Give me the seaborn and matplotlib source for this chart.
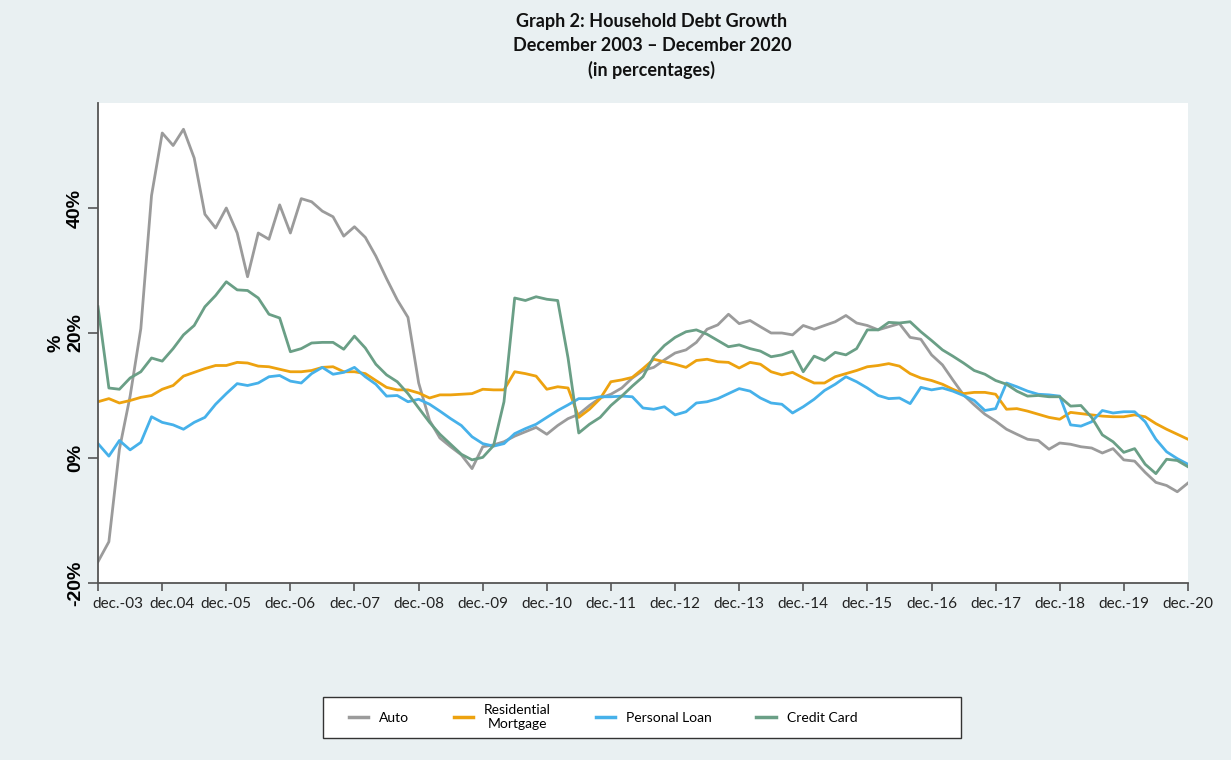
import matplotlib
matplotlib.use('Agg')
import matplotlib.pyplot as plt
from matplotlib.lines import Line2D
from matplotlib.patches import Rectangle
import pandas as pd
import seaborn as sns

# bi-monthly readings, Dec 2003 - Dec 2020
dates = pd.date_range('2003-12-01', '2020-12-01', freq='2MS')

auto = [-16.6, -13.4, 1.4, 9.9, 20.7, 42.0,
        52.0, 50.0, 52.6, 48.0, 39.0, 36.8,
        40.0, 36.0, 29.0, 36.0, 35.0, 40.5,
        36.0, 41.5, 41.0, 39.5, 38.6, 35.5,
        37.0, 35.3, 32.3, 28.7, 25.3, 22.5,
        12.0, 6.0, 3.2, 1.8, 0.5, -1.7,
        1.8, 2.1, 2.6, 3.5, 4.2, 4.9,
        3.8, 5.2, 6.3, 7.0, 8.4, 9.6,
        10.2, 11.2, 12.8, 14.0, 14.5, 15.7,
        16.8, 17.3, 18.5, 20.6, 21.3, 23.0,
        21.5, 22.0, 21.0, 20.0, 20.0, 19.7,
        21.2, 20.6, 21.2, 21.8, 22.8, 21.6,
        21.2, 20.5, 21.0, 21.5, 19.3, 19.0,
        16.5, 14.9, 12.5, 10.1, 8.5, 7.0,
        5.9, 4.6, 3.8, 3.0, 2.8, 1.4,
        2.4, 2.2, 1.8, 1.6, 0.8, 1.5,
        -0.3, -0.5, -2.3, -3.9, -4.4, -5.4,
        -4.0]

mortgage = [9.0, 9.5, 8.8, 9.2, 9.7, 10.0,
            11.0, 11.6, 13.1, 13.7, 14.3, 14.8,
            14.8, 15.3, 15.2, 14.7, 14.6, 14.2,
            13.8, 13.8, 14.0, 14.5, 14.6, 13.8,
            13.8, 13.5, 12.4, 11.3, 10.9, 10.9,
            10.4, 9.6, 10.1, 10.1, 10.2, 10.3,
            11.0, 10.9, 10.9, 13.8, 13.5, 13.1,
            11.0, 11.4, 11.2, 6.5, 7.8, 9.5,
            12.2, 12.5, 12.9, 14.3, 15.8, 15.4,
            15.0, 14.5, 15.6, 15.8, 15.4, 15.3,
            14.4, 15.3, 15.0, 13.8, 13.3, 13.7,
            12.8, 12.0, 12.0, 13.0, 13.5, 14.0,
            14.6, 14.8, 15.1, 14.7, 13.5, 12.8,
            12.4, 11.8, 11.0, 10.3, 10.5, 10.5,
            10.2, 7.8, 7.9, 7.5, 7.0, 6.5,
            6.2, 7.3, 7.1, 6.9, 6.7, 6.6,
            6.6, 6.9, 6.6, 5.5, 4.6, 3.8,
            3.0]

personal = [2.3, 0.3, 2.8, 1.3, 2.5, 6.6,
            5.7, 5.3, 4.6, 5.7, 6.5, 8.6,
            10.3, 11.9, 11.6, 12.0, 13.0, 13.2,
            12.3, 12.0, 13.5, 14.5, 13.4, 13.7,
            14.5, 13.0, 11.8, 9.9, 10.0, 9.0,
            9.4, 8.6, 7.5, 6.3, 5.2, 3.4,
            2.3, 1.9, 2.3, 3.9, 4.7, 5.4,
            6.5, 7.6, 8.5, 9.5, 9.5, 9.8,
            9.8, 9.9, 9.8, 8.0, 7.8, 8.2,
            6.9, 7.4, 8.8, 9.0, 9.5, 10.3,
            11.1, 10.7, 9.6, 8.8, 8.6, 7.2,
            8.2, 9.4, 10.8, 11.8, 13.0, 12.2,
            11.2, 10.0, 9.5, 9.6, 8.7, 11.3,
            10.9, 11.2, 10.7, 10.0, 9.2, 7.6,
            7.9, 12.0, 11.4, 10.7, 10.2, 10.1,
            9.9, 5.3, 5.1, 5.8, 7.6, 7.2,
            7.4, 7.4, 5.8, 3.0, 1.0, -0.1,
            -1.0]

credit = [24.2, 11.2, 11.0, 12.8, 13.8, 16.0,
          15.5, 17.5, 19.7, 21.2, 24.2, 26.0,
          28.2, 26.9, 26.8, 25.6, 23.0, 22.4,
          17.0, 17.5, 18.4, 18.5, 18.5, 17.4,
          19.5, 17.6, 15.0, 13.3, 12.2, 10.3,
          8.0, 5.7, 3.8, 2.2, 0.6, -0.3,
          0.1, 2.0, 9.0, 25.6, 25.2, 25.8,
          25.4, 25.2, 16.0, 4.0, 5.4, 6.5,
          8.4, 9.9, 11.5, 13.0, 16.2, 18.0,
          19.3, 20.2, 20.5, 19.8, 18.8, 17.8,
          18.1, 17.5, 17.1, 16.2, 16.5, 17.1,
          13.8, 16.3, 15.6, 16.9, 16.5, 17.5,
          20.5, 20.5, 21.7, 21.6, 21.8, 20.2,
          18.8, 17.3, 16.3, 15.2, 14.0, 13.4,
          12.4, 11.8, 10.7, 9.9, 10.0, 9.8,
          9.8, 8.3, 8.4, 6.5, 3.7, 2.6,
          0.9, 1.5, -1.0, -2.5, -0.2, -0.4,
          -1.4]

series_names = ['Auto', 'Residential\nMortgage', 'Personal Loan', 'Credit Card']
colors = ['#9b9b9b', '#eda20f', '#46b1ea', '#6a9f86']

tick_dates = pd.date_range('2003-12-01', '2020-12-01', freq='12MS')
tick_labels = ['dec.-03', 'dec.04', 'dec.-05', 'dec.-06', 'dec.-07', 'dec.-08',
               'dec.-09', 'dec.-10', 'dec.-11', 'dec.-12', 'dec.-13', 'dec.-14',
               'dec.-15', 'dec.-16', 'dec.-17', 'dec.-18', 'dec.-19', 'dec.-20']
y_ticks = [-20, 0, 20, 40]
y_labels = ['-20%', '0%', '20%', '40%']

df = pd.DataFrame({'date': dates, series_names[0]: auto, series_names[1]: mortgage,
                   series_names[2]: personal, series_names[3]: credit})
long_df = df.melt(id_vars='date', var_name='series', value_name='value')

bg = '#e9f0f2'
fig = plt.figure(figsize=(12.31, 7.60), dpi=100, facecolor=bg)
ax = fig.add_axes([98 / 1231, 1 - 583 / 760, 1090 / 1231, 480 / 760])
ax.set_facecolor('white')

sns.lineplot(data=long_df, x='date', y='value', hue='series',
             palette=dict(zip(series_names, colors)), linewidth=2.0,
             ax=ax, legend=False)

ax.set_xlim(dates[0], dates[-1])
ax.set_ylim(-20, 56.8)

# tick marks on each December; labels carried by minor ticks so the
# first two can sit a little right of their marks, as in the source
ax.xaxis.remove_overlapping_locs = False
ax.set_xticks(tick_dates)
ax.set_xticklabels([''] * len(tick_dates))
label_dates = list(tick_dates)
label_dates[0] = label_dates[0] + pd.Timedelta(days=112)
label_dates[1] = label_dates[1] + pd.Timedelta(days=55)
ax.set_xticks(label_dates, minor=True)
ax.set_xticklabels(tick_labels, minor=True, family='Lato', fontsize=11, color='#222222')
ax.tick_params(axis='x', which='minor', length=0, pad=10)
ax.tick_params(axis='x', which='major', length=6, width=1.2, color='#555555', pad=4)

ax.set_yticks(y_ticks)
ax.set_yticklabels(y_labels, family='Liberation Sans', fontweight='bold',
                   fontsize=14, rotation=90, va='center')
ax.tick_params(axis='y', length=7, width=1.2, color='#555555', pad=3)

ax.set_xlabel('')
ax.set_ylabel('%', family='Liberation Sans', fontweight='bold', fontsize=14, labelpad=2)

for side in ['top', 'right']:
    ax.spines[side].set_visible(False)
for side in ['left', 'bottom']:
    ax.spines[side].set_color('#555555')
    ax.spines[side].set_linewidth(1.3)

fig.text(652 / 1231, 1 - 46 / 760,
         'Graph 2: Household Debt Growth\nDecember 2003 \u2013 December 2020\n(in percentages)',
         ha='center', va='center', family='Lato', fontweight='bold', fontsize=13,
         linespacing=1.5, color='#111111')

# legend box
fig.patches.append(Rectangle((323 / 1231, 1 - 738 / 760), 638 / 1231, 41 / 760,
                             transform=fig.transFigure, facecolor='white',
                             edgecolor='#333333', linewidth=1.0))
handles = [Line2D([0], [0], color=c, linewidth=2.5) for c in colors]
leg = fig.legend(handles, series_names, loc='center left',
                 bbox_to_anchor=(336 / 1231, 1 - 717 / 760), ncol=4, frameon=False,
                 prop={'family': 'Lato', 'size': 10}, handlelength=1.4,
                 handletextpad=0.8, columnspacing=3.2)
for t in leg.get_texts():
    t.set_multialignment('center')

plt.savefig('out.png', dpi=100, facecolor=bg)
